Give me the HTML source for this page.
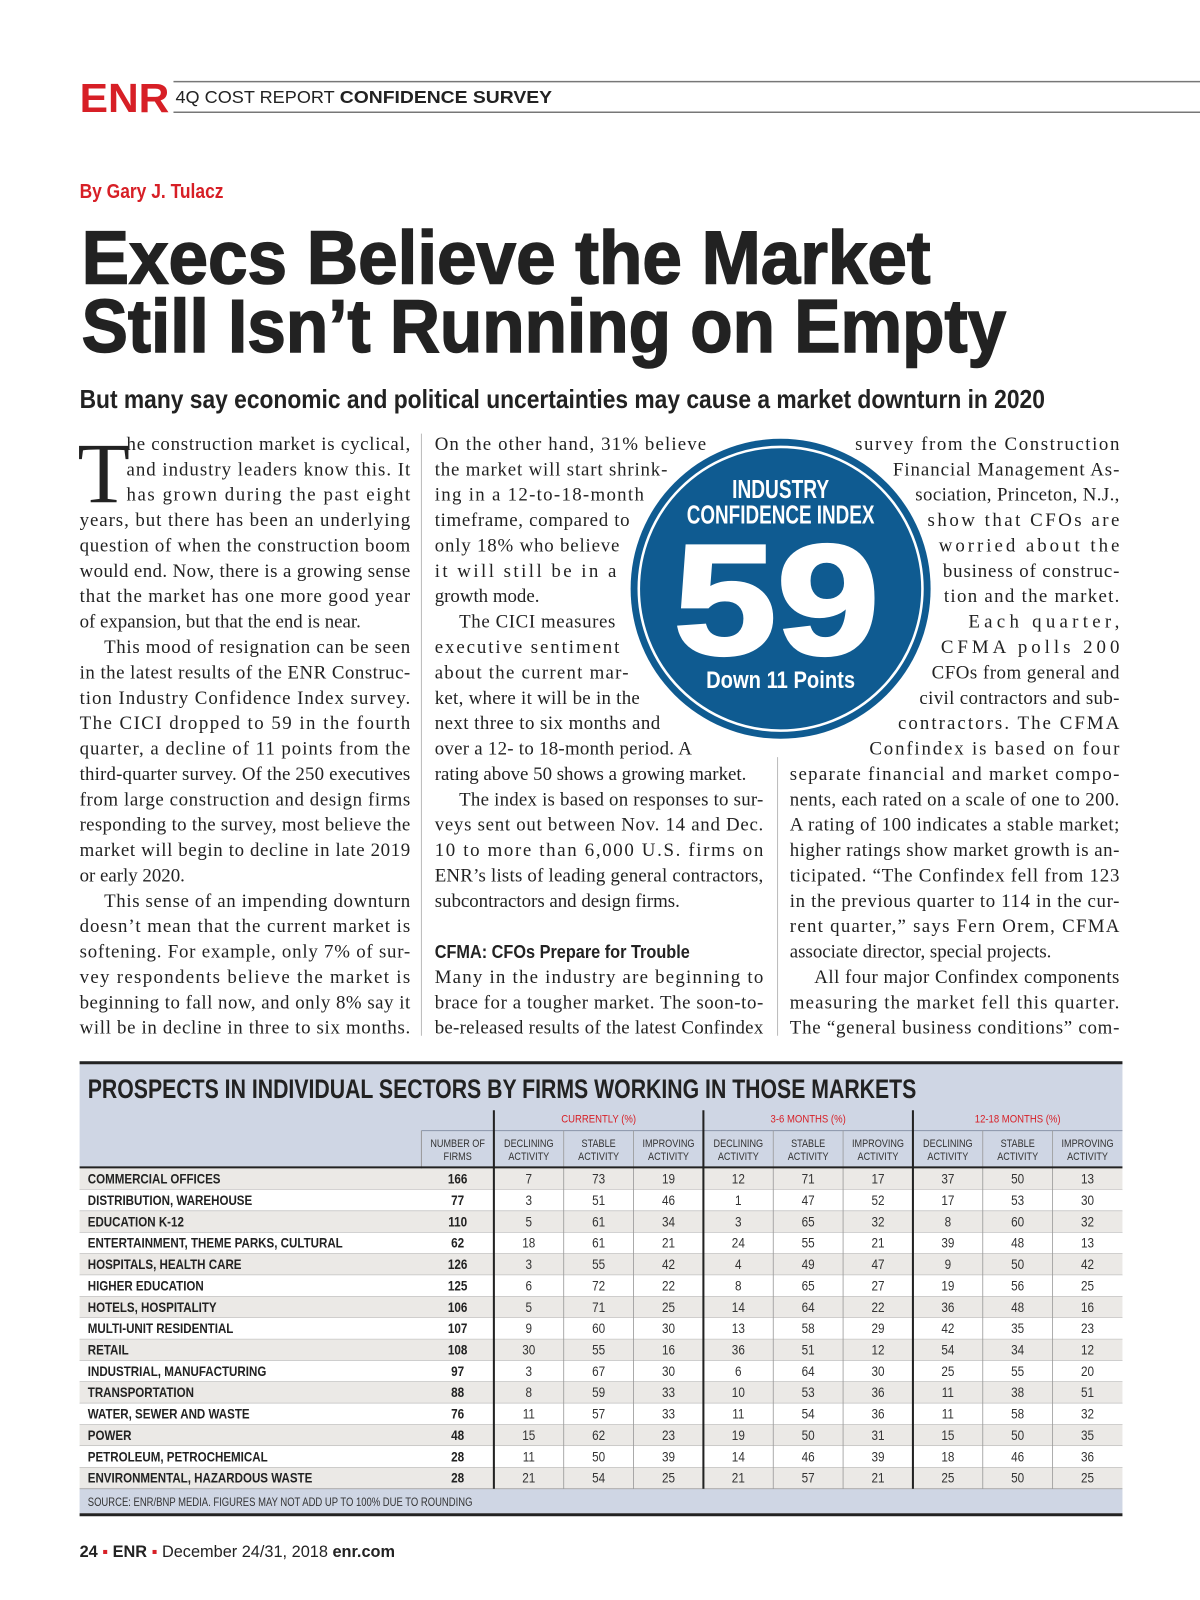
<!DOCTYPE html>
<html><head><meta charset="utf-8"><title>ENR Confidence Survey</title>
<style>
html,body{margin:0;padding:0;background:#fff;}
svg{display:block;}
.serif{font-family:"Liberation Serif",serif;font-size:18.5px;fill:#222;}
.nar{font-family:"Liberation Sans Narrow","Liberation Sans",sans-serif;}
.sans{font-family:"Liberation Sans",sans-serif;}
</style></head>
<body>
<svg id="page" width="1200" height="1600" viewBox="0 0 1176 1568" xmlns="http://www.w3.org/2000/svg">
  <g>
    <line x1="170" y1="80" x2="1200" y2="80" stroke="#777" stroke-width="1.5"/>
    <line x1="170" y1="110" x2="1200" y2="110" stroke="#777" stroke-width="1.5"/>
    <text x="78" y="110" class="sans" font-size="40" font-weight="bold" fill="#d71f26" textLength="88" lengthAdjust="spacingAndGlyphs">ENR</text>
    <text x="172" y="101" class="sans" font-size="17.5" fill="#222"><tspan textLength="156" lengthAdjust="spacingAndGlyphs">4Q COST REPORT</tspan> <tspan font-weight="bold" x="333" textLength="208" lengthAdjust="spacingAndGlyphs">CONFIDENCE SURVEY</tspan></text>
  </g>
  <text x="78" y="194" class="nar" font-size="20" font-weight="bold" fill="#d71f26" textLength="141" lengthAdjust="spacingAndGlyphs">By Gary J. Tulacz</text>
  <g>
    <text x="80" y="278" class="sans" font-size="74" font-weight="bold" fill="#222" stroke="#222" stroke-width="1.5" textLength="832" lengthAdjust="spacingAndGlyphs">Execs Believe the Market</text>
    <text x="80" y="345" class="sans" font-size="74" font-weight="bold" fill="#222" stroke="#222" stroke-width="1.5" textLength="906" lengthAdjust="spacingAndGlyphs">Still Isn’t Running on Empty</text>
  </g>
  <text x="78" y="400" class="nar" font-size="25" font-weight="bold" fill="#222" textLength="946" lengthAdjust="spacingAndGlyphs">But many say economic and political uncertainties may cause a market downturn in 2020</text>

  <line x1="413" y1="425" x2="413" y2="1015" stroke="#bbb" stroke-width="1"/>
  <line x1="762" y1="742" x2="762" y2="1015" stroke="#bbb" stroke-width="1"/>
  <text x="76" y="492" font-family="Liberation Serif,serif" font-size="84" fill="#222">T</text>
  <text x="426" y="939" class="nar" font-size="18" font-weight="bold" fill="#222" textLength="250" lengthAdjust="spacingAndGlyphs">CFMA: CFOs Prepare for Trouble</text>
  <g id="body"></g>

  <g>
    <circle cx="765" cy="577" r="147" fill="#0f5b91"/>
    <circle cx="765" cy="577" r="139" fill="none" stroke="#fff" stroke-width="2.5"/>
    <text x="765" y="488" text-anchor="middle" class="nar" font-size="25" font-weight="bold" fill="#fff" textLength="95" lengthAdjust="spacingAndGlyphs">INDUSTRY</text>
    <text x="765" y="513" text-anchor="middle" class="nar" font-size="25" font-weight="bold" fill="#fff" textLength="184" lengthAdjust="spacingAndGlyphs">CONFIDENCE INDEX</text>
    <text x="761" y="641" text-anchor="middle" class="sans" font-size="154" font-weight="bold" fill="#fff" stroke="#fff" stroke-width="3" textLength="202" lengthAdjust="spacingAndGlyphs">59</text>
    <text x="765" y="674" text-anchor="middle" class="nar" font-size="24" font-weight="bold" fill="#fff" textLength="146" lengthAdjust="spacingAndGlyphs">Down 11 Points</text>
  </g>

  <g id="table"></g>

  <text x="78" y="1526" class="sans" font-size="16" fill="#222"><tspan font-weight="bold">24</tspan> <tspan fill="#d71f26">▪</tspan> <tspan font-weight="bold">ENR</tspan> <tspan fill="#d71f26">▪</tspan> December 24/31, 2018 <tspan font-weight="bold">enr.com</tspan></text>
</svg>
<script>
// Table data
const sectors = ["COMMERCIAL OFFICES","DISTRIBUTION, WAREHOUSE","EDUCATION K-12","ENTERTAINMENT, THEME PARKS, CULTURAL","HOSPITALS, HEALTH CARE","HIGHER EDUCATION","HOTELS, HOSPITALITY","MULTI-UNIT RESIDENTIAL","RETAIL","INDUSTRIAL, MANUFACTURING","TRANSPORTATION","WATER, SEWER AND WASTE","POWER","PETROLEUM, PETROCHEMICAL","ENVIRONMENTAL, HAZARDOUS WASTE"];
const firms = [166,77,110,62,126,125,106,107,108,97,88,76,48,28,28];
const curDecl = [7,3,5,18,3,6,5,9,30,3,8,11,15,11,21];
const curStab = [73,51,61,61,55,72,71,60,55,67,59,57,62,50,54];
const curImpr = [19,46,34,21,42,22,25,30,16,30,33,33,23,39,25];
const m36Decl = [12,1,3,24,4,8,14,13,36,6,10,11,19,14,21];
const m36Stab = [71,47,65,55,49,65,64,58,51,64,53,54,50,46,57];
const m36Impr = [17,52,32,21,47,27,22,29,12,30,36,36,31,39,21];
const m12Decl = [37,17,8,39,9,19,36,42,54,25,11,11,15,18,25];
const m12Stab = [50,53,60,48,50,56,48,35,34,55,38,58,50,46,50];
const m12Impr = [13,30,32,13,42,25,16,23,12,20,51,32,35,36,25];
const groups = ["CURRENTLY (%)","3-6 MONTHS (%)","12-18 MONTHS (%)"];
const colHeads = ["DECLINING","STABLE","IMPROVING"];

const NS="http://www.w3.org/2000/svg";
function mk(tag, attrs, parent){const e=document.createElementNS(NS,tag);for(const k in attrs)e.setAttribute(k,attrs[k]);parent.appendChild(e);return e;}
function narrow(t,f){try{const w=t.getComputedTextLength();if(w>0){t.setAttribute('textLength',(w*f).toFixed(1));t.setAttribute('lengthAdjust','spacingAndGlyphs');}}catch(e){}}

// ---------- body text ----------
const col1 = [
["he construction market is cyclical,",124,402],
["and industry leaders know this. It",124,402],
["has grown during the past eight",124,402],
["years, but there has been an underlying",78,402],
["question of when the construction boom",78,402],
["would end. Now, there is a growing sense",78,402],
["that the market has one more good year",78,402],
["of expansion, but that the end is near.",78,0],
["This mood of resignation can be seen",102,402],
["in the latest results of the ENR Construc-",78,402],
["tion Industry Confidence Index survey.",78,402],
["The CICI dropped to 59 in the fourth",78,402],
["quarter, a decline of 11 points from the",78,402],
["third-quarter survey. Of the 250 executives",78,402],
["from large construction and design firms",78,402],
["responding to the survey, most believe the",78,402],
["market will begin to decline in late 2019",78,402],
["or early 2020.",78,0],
["This sense of an impending downturn",102,402],
["doesn’t mean that the current market is",78,402],
["softening. For example, only 7% of sur-",78,402],
["vey respondents believe the market is",78,402],
["beginning to fall now, and only 8% say it",78,402],
["will be in decline in three to six months.",78,402]];
const col2 = [
["On the other hand, 31% believe",426,692],
["the market will start shrink-",426,654],
["ing in a 12-to-18-month",426,631],
["timeframe, compared to",426,617],
["only 18% who believe",426,607],
["it will still be in a",426,604],
["growth mode.",426,0],
["The CICI measures",450,603],
["executive sentiment",426,607],
["about the current mar-",426,616],
["ket, where it will be in the",426,627],
["next three to six months and",426,647],
["over a 12- to 18-month period. A",426,678],
["rating above 50 shows a growing market.",426,0],
["The index is based on responses to sur-",450,748],
["veys sent out between Nov. 14 and Dec.",426,748],
["10 to more than 6,000 U.S. firms on",426,748],
["ENR’s lists of leading general contractors,",426,748],
["subcontractors and design firms.",426,0],
["",426,0],
["",426,0],
["Many in the industry are beginning to",426,748],
["brace for a tougher market. The soon-to-",426,748],
["be-released results of the latest Confindex",426,748]];
const col3 = [
["survey from the Construction",838,1097],
["Financial Management As-",875,1097],
["sociation, Princeton, N.J.,",897,1097],
["show that CFOs are",909,1097],
["worried about the",920,1097],
["business of construc-",924,1097],
["tion and the market.",925,1097],
["Each quarter,",949,1097],
["CFMA polls 200",922,1097],
["CFOs from general and",913,1097],
["civil contractors and sub-",901,1097],
["contractors. The CFMA",880,1097],
["Confindex is based on four",852,1097],
["separate financial and market compo-",774,1097],
["nents, each rated on a scale of one to 200.",774,1097],
["A rating of 100 indicates a stable market;",774,1097],
["higher ratings show market growth is an-",774,1097],
["ticipated. “The Confindex fell from 123",774,1097],
["in the previous quarter to 114 in the cur-",774,1097],
["rent quarter,” says Fern Orem, CFMA",774,1097],
["associate director, special projects.",774,0],
["All four major Confindex components",798,1097],
["measuring the market fell this quarter.",774,1097],
["The “general business conditions” com-",774,1097]];
const body=document.getElementById('body');
[col1,col2,col3].forEach((col,ci)=>{
  col.forEach((ln,i)=>{
    if(!ln[0])return;
    const y=441+i*24.87;
    const a={x:ln[1],y:y.toFixed(1),class:'serif'};
    if(ln[2]){a.textLength=ln[2]-ln[1];a.lengthAdjust='spacing';}
    const t=mk('text',a,body);
    
    
    t.textContent=ln[0];
  });
});

// ---------- table ----------
const tb=document.getElementById('table');
const L=78,R=1100,TOP=1040,HROW=1144,RH=20.93;
const nameR=413, numR=484;
const colW=(R-numR)/9;
const xCol=i=>numR+colW*i;
const yRow=i=>HROW+1+RH*i;
const srcTop=yRow(sectors.length), srcBot=srcTop+24;
mk('rect',{x:L,y:TOP,width:R-L,height:HROW-TOP,fill:'#cfd6e4'},tb);
mk('rect',{x:L,y:srcTop,width:R-L,height:srcBot-srcTop,fill:'#cfd6e4'},tb);
mk('line',{x1:L,y1:TOP+1.5,x2:R,y2:TOP+1.5,stroke:'#222','stroke-width':3},tb);
mk('line',{x1:L,y1:srcBot+1.5,x2:R,y2:srcBot+1.5,stroke:'#222','stroke-width':3},tb);
const title=mk('text',{x:86,y:1076,class:'nar','font-size':26,'font-weight':'bold',fill:'#222',textLength:812,lengthAdjust:'spacingAndGlyphs'},tb);


title.textContent='PROSPECTS IN INDIVIDUAL SECTORS BY FIRMS WORKING IN THOSE MARKETS';
mk('line',{x1:nameR,y1:1108,x2:R,y2:1108,stroke:'#8a93a8','stroke-width':1},tb);
mk('line',{x1:nameR,y1:1108,x2:nameR,y2:srcTop,stroke:'#999','stroke-width':1},tb);
groups.forEach((g,gi)=>{
  const cx=xCol(gi*3)+colW*1.5;
  const t=mk('text',{x:cx,y:1100,'text-anchor':'middle',class:'nar','font-size':11,fill:'#d71f26'},tb);
  
  
  t.textContent=g;
  narrow(t,0.85);
});
const nh1=mk('text',{x:(nameR+numR)/2,y:1124,'text-anchor':'middle',class:'nar','font-size':10.5,fill:'#333'},tb);


nh1.textContent='NUMBER OF';
narrow(nh1,0.85);
const nh2=mk('text',{x:(nameR+numR)/2,y:1137,'text-anchor':'middle',class:'nar','font-size':10.5,fill:'#333'},tb);


nh2.textContent='FIRMS';
narrow(nh2,0.85);
for(let c=0;c<9;c++){
  const cx=xCol(c)+colW/2;
  const h1=mk('text',{x:cx,y:1124,'text-anchor':'middle',class:'nar','font-size':10.5,fill:'#333'},tb);
  
  
  h1.textContent=colHeads[c%3];
  narrow(h1,0.85);
  const h2=mk('text',{x:cx,y:1137,'text-anchor':'middle',class:'nar','font-size':10.5,fill:'#333'},tb);
  
  
  h2.textContent='ACTIVITY';
  narrow(h2,0.85);
}
const series=[curDecl,curStab,curImpr,m36Decl,m36Stab,m36Impr,m12Decl,m12Stab,m12Impr];
sectors.forEach((s,i)=>{
  const y=yRow(i);
  const bg=mk('rect',{x:L,y:y,width:R-L,height:RH,fill:i%2===0?'#ebe9e6':'#fff'},tb);
  
  
  mk('line',{x1:L,y1:y+RH,x2:R,y2:y+RH,stroke:'#999','stroke-width':0.8},tb);
  const nm=mk('text',{x:86,y:y+15,class:'nar','font-size':13.5,'font-weight':'bold',fill:'#222'},tb);
  
  
  nm.textContent=s;
  narrow(nm,0.84);
  const fn=mk('text',{x:(nameR+numR)/2,y:y+15,'text-anchor':'middle',class:'nar','font-size':13.5,'font-weight':'bold',fill:'#222'},tb);
  
  
  fn.textContent=firms[i];
  narrow(fn,0.85);
  series.forEach((arr,c)=>{
    const v=mk('text',{x:xCol(c)+colW/2,y:y+15,'text-anchor':'middle',class:'nar','font-size':13.5,fill:'#333'},tb);
    
    
    v.textContent=arr[i];
    narrow(v,0.85);
  });
});
for(let c=1;c<9;c++){
  if(c%3===0)continue;
  mk('line',{x1:xCol(c),y1:1108,x2:xCol(c),y2:srcTop,stroke:'#999','stroke-width':0.8},tb);
}
[0,3,6].forEach(c=>{
  mk('line',{x1:xCol(c),y1:1088,x2:xCol(c),y2:srcTop,stroke:'#222','stroke-width':2},tb);
});
mk('line',{x1:L,y1:HROW,x2:R,y2:HROW,stroke:'#222','stroke-width':2},tb);
const src=mk('text',{x:86,y:srcTop+17,class:'nar','font-size':12,fill:'#333',textLength:377,lengthAdjust:'spacingAndGlyphs'},tb);


src.textContent='SOURCE: ENR/BNP MEDIA. FIGURES MAY NOT ADD UP TO 100% DUE TO ROUNDING';
</script>
</body></html>
